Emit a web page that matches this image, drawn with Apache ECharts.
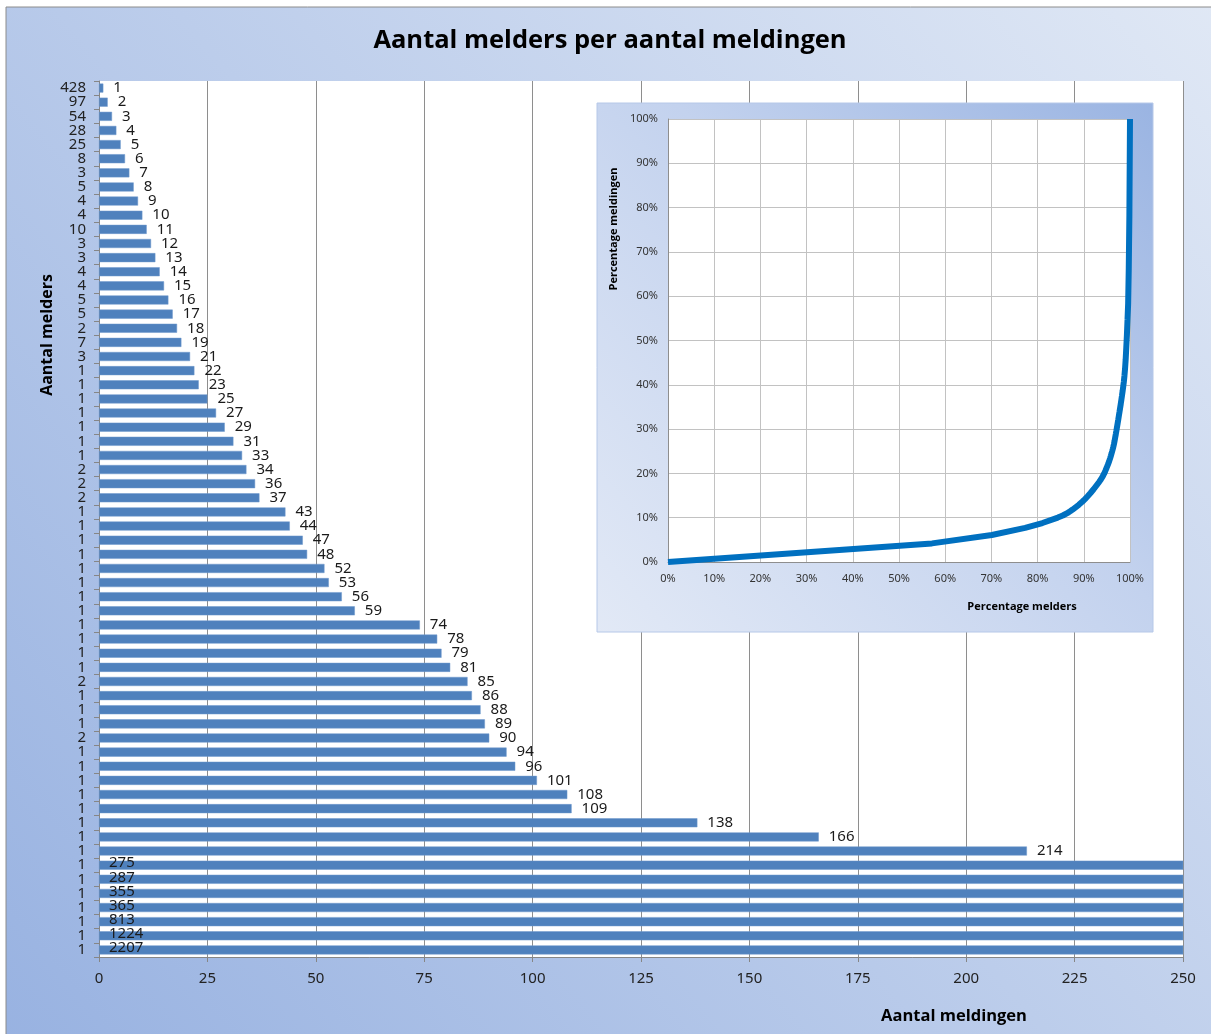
<!DOCTYPE html>
<html>
<head>
<meta charset="utf-8">
<script src="https://cdn.jsdelivr.net/npm/echarts@6/dist/echarts.min.js"></script>
<style>
html,body{margin:0;padding:0;background:#fff;}
#c{width:1211px;height:1034px;}
</style>
</head>
<body>
<div id="c"></div>
<script>
// Aantal meldingen (bar values, one row per distinct count, top to bottom)
const meldingen = [1,2,3,4,5,6,7,8,9,10,11,12,13,14,15,16,17,18,19,21,22,23,25,27,29,31,33,34,36,37,43,44,47,48,52,53,56,59,74,78,79,81,85,86,88,89,90,94,96,101,108,109,138,166,214,275,287,355,365,813,1224,2207];
// Aantal melders (y-axis tick labels, same rows)
const melders = [428,97,54,28,25,8,3,5,4,4,10,3,3,4,4,5,5,2,7,3,1,1,1,1,1,1,1,2,2,2,1,1,1,1,1,1,1,1,1,1,1,1,2,1,1,1,2,1,1,1,1,1,1,1,1,1,1,1,1,1,1,1];
const xTicks = [0,25,50,75,100,125,150,175,200,225,250];

const XMAX = 250;
const FONT = 'Noto Sans';

// Table for the inset (cumulative share of melders vs share of meldingen), built from the data above
const totalMelders = melders.reduce((a,b)=>a+b,0);
const totalMeldingen = melders.reduce((a,m,i)=>a+m*meldingen[i],0);
const curve = [[0,0]];
let cm=0, cv=0;
for (let i=0;i<melders.length;i++){ cm+=melders[i]; cv+=melders[i]*meldingen[i]; curve.push([cm/totalMelders, cv/totalMeldingen]); }

const barData = meldingen.map(v => v > XMAX ? {
  value: v,
  label: {position:'insideLeft', distance: 10, offset:[0,-2]}
} : v);

const chart = echarts.init(document.getElementById('c'));
chart.setOption({
  animation:false,
  graphic:[
    {type:'rect', z:-100, shape:{x:6,y:7,width:1220,height:1040},
     style:{fill:new echarts.graphic.LinearGradient(0,1,1,0,[{offset:0,color:'#98b2e1'},{offset:0.5,color:'#bccdeb'},{offset:1,color:'#e0e8f5'}]), stroke:'#8c8c8c', lineWidth:1}},
    {type:'text', z:50, x:610, y:41, style:{text:'Aantal melders per aantal meldingen', font:'bold 25.5px "Open Sans"', fill:'#000', align:'center', verticalAlign:'middle'}},
    {type:'text', z:50, x:47, y:335, rotation:Math.PI/2, style:{text:'Aantal melders', font:'bold 16px "Open Sans"', fill:'#000', align:'center', verticalAlign:'middle'}},
    {type:'text', z:50, x:954, y:1016, style:{text:'Aantal meldingen', font:'bold 16.5px "Open Sans"', fill:'#000', align:'center', verticalAlign:'middle'}},
    {type:'rect', z:10, shape:{x:597,y:103,width:556,height:529},
     style:{fill:new echarts.graphic.LinearGradient(0,1,1,0,[{offset:0,color:'#e2e9f6'},{offset:0.55,color:'#c3d2ee'},{offset:1,color:'#9ab4e2'}]), stroke:'#b6c8e8', lineWidth:1}},
    {type:'text', z:50, x:614, y:229, rotation:Math.PI/2, style:{text:'Percentage meldingen', font:'bold 11px "Open Sans"', fill:'#000', align:'center', verticalAlign:'middle'}},
    {type:'text', z:50, x:1022, y:607, style:{text:'Percentage melders', font:'bold 11px "Open Sans"', fill:'#000', align:'center', verticalAlign:'middle'}}
  ],
  grid:[
    {left:99, top:81, width:1084, height:876, show:true, backgroundColor:'#ffffff', borderWidth:0, z:0},
    {left:668, top:119, width:462, height:443, show:true, backgroundColor:'#ffffff', borderWidth:0, z:11}
  ],
  xAxis:[
    {type:'value', gridIndex:0, min:xTicks[0], max:xTicks[xTicks.length-1], interval:25,
     axisLine:{show:true, lineStyle:{color:'#868686'}},
     axisTick:{show:true, length:5, lineStyle:{color:'#868686'}},
     splitLine:{show:true, lineStyle:{color:'#8e8e8e', width:1}},
     axisLabel:{color:'#222', fontSize:15, fontFamily:FONT, margin:14}},
    {type:'value', gridIndex:1, min:0, max:1, interval:0.1, z:11,
     axisLine:{show:true, lineStyle:{color:'#8e8e8e'}},
     axisTick:{show:false},
     splitLine:{show:true, lineStyle:{color:'#c2c2c2'}},
     axisLabel:{color:'#333', fontSize:11, fontFamily:FONT, margin:11, formatter:v=>Math.round(v*100)+'%'}}
  ],
  yAxis:[
    {type:'category', gridIndex:0, inverse:true, data:meldingen.map(String),
     axisLine:{show:true, lineStyle:{color:'#868686'}},
     axisTick:{show:true, length:5, interval:0, lineStyle:{color:'#868686'}},
     axisLabel:{interval:0, color:'#222', fontSize:15, fontFamily:FONT, margin:13, lineHeight:14,
       formatter:(val, idx)=>String(melders[idx])}},
    {type:'value', gridIndex:1, min:0, max:1, interval:0.1, z:11,
     axisLine:{show:true, lineStyle:{color:'#8e8e8e'}},
     axisTick:{show:false},
     splitLine:{show:true, lineStyle:{color:'#c2c2c2'}},
     axisLabel:{color:'#333', fontSize:11, fontFamily:FONT, margin:10, formatter:v=>Math.round(v*100)+'%'}}
  ],
  series:[
    {type:'bar', xAxisIndex:0, yAxisIndex:0, data:barData, barCategoryGap:'36%', clip:true,
     itemStyle:{color:'#4f81bd', borderColor:'#6f98cc', borderWidth:0.5},
     label:{show:true, position:'right', distance:10, color:'#1a1a1a', fontSize:15, fontFamily:FONT}},
    {type:'line', xAxisIndex:1, yAxisIndex:1, data:curve, z:12, showSymbol:false, symbol:'none',
     lineStyle:{color:'#0070c0', width:6}}
  ]
});
</script>
</body>
</html>
